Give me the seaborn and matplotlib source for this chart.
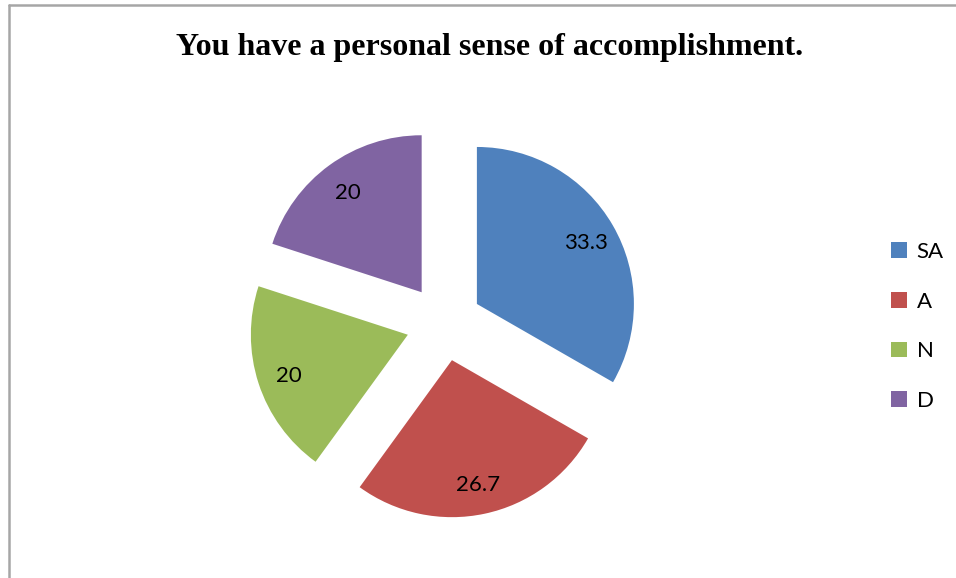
import matplotlib
matplotlib.use("Agg")
import matplotlib.pyplot as plt
from matplotlib.lines import Line2D
import seaborn as sns

categories = ["SA", "A", "N", "D"]
values = [33.3, 26.7, 20, 20]
value_labels = ["33.3", "26.7", "20", "20"]
colors = ["#4F81BD", "#C0504D", "#9BBB59", "#8064A2"]
title = "You have a personal sense of accomplishment."

sns.set_theme(style="white")
plt.rcParams["font.family"] = ["Lato", "DejaVu Sans"]
plt.rcParams["text.color"] = "black"

W, H = 956, 578
fig = plt.figure(figsize=(W / 100, H / 100), dpi=100)
ax = fig.add_axes([0, 0, 1, 1])
ax.set_xlim(0, W)
ax.set_ylim(0, H)
ax.set_aspect("equal")
ax.axis("off")

palette = sns.color_palette(colors)
wedges, texts = ax.pie(values, colors=palette, startangle=90, counterclock=False,
                       center=(444, H - 323), radius=157, explode=[38] * 4,
                       labels=value_labels, labeldistance=0.8,
                       wedgeprops=dict(linewidth=0),
                       textprops=dict(fontsize=16, color="black"))
for t in texts:
    t.set_ha("center")
    t.set_va("center_baseline")
ax.set_xlim(0, W)
ax.set_ylim(0, H)

fig.text(490 / W, 1 - 48 / H, title, ha="center", va="center", color="black",
         fontsize=23, fontweight="bold", family=["Liberation Serif", "DejaVu Serif"])

leg = fig.legend(wedges, categories, loc="upper left", bbox_to_anchor=(891 / W, 1 - 242 / H),
                 frameon=False, fontsize=16, handlelength=0.7, handleheight=0.7,
                 handletextpad=0.45, labelspacing=1.33, borderpad=0, borderaxespad=0)
for txt in leg.get_texts():
    txt.set_color("black")

fig.add_artist(Line2D([8.5 / W, 8.5 / W], [0, 1 - 5 / H], color="#A6A6A6", lw=1.8,
                      transform=fig.transFigure))
fig.add_artist(Line2D([8.5 / W, 1], [1 - 5 / H, 1 - 5 / H], color="#A6A6A6", lw=1.8,
                      transform=fig.transFigure))

fig.savefig("out.png", dpi=100)
